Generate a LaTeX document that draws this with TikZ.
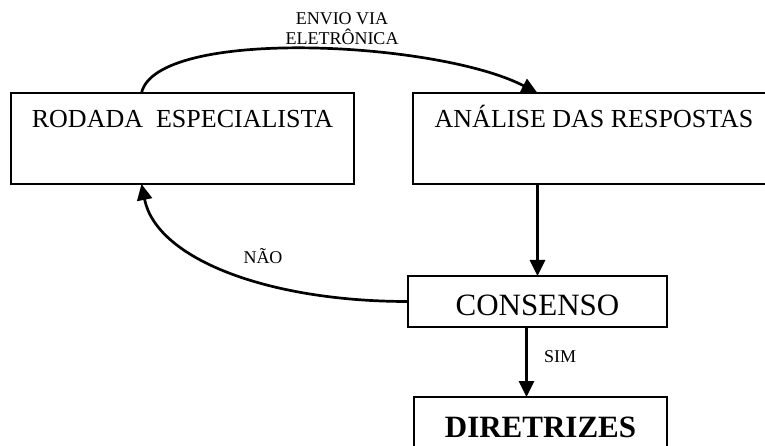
\documentclass[tikz,border=0pt]{standalone}
\usepackage{fontspec}
\setmainfont{Liberation Serif}
\usetikzlibrary{arrows.meta}

\begin{document}
\begin{tikzpicture}[x=1pt,y=-1pt,
		etapa/.style={draw, line width=1.4pt, inner xsep=0pt, inner ysep=0pt, outer sep=0pt, anchor=north west},
		seta/.style={line width=2.7pt, -{Triangle[length=16pt,width=15pt]}},
		rotulo/.style={font=\fontsize{18}{20}\selectfont, inner sep=0pt}]
			%%%%% START %%%%%
			\clip (0,0) rectangle (765,446);
			
			% etapas
			\node[etapa, minimum width=343pt, text height=35pt, text depth=56pt, font=\fontsize{26}{30}\selectfont] (rodada) at (11,93) {RODADA~~ESPECIALISTA};
			\node[etapa, minimum width=362pt, text height=35pt, text depth=56pt, font=\fontsize{26}{30}\selectfont] (analise) at (413,93) {ANÁLISE DAS RESPOSTAS};
			\node[etapa, minimum width=259pt, text height=39pt, text depth=12pt, font=\fontsize{31}{36}\selectfont] (consenso) at (408,276) {CONSENSO};
			\node[etapa, minimum width=253pt, text height=40pt, text depth=14pt, font=\fontsize{31}{36}\selectfont\bfseries] (diretrizes) at (414,397) {DIRETRIZES};
			
			% setas
			\draw[seta] ([xshift=-41pt]rodada.north) .. controls +(15,-66) and +(-100,-52) .. (consenso.north |- analise.north);
			\draw[seta] (consenso.north |- analise.south) -- (consenso.north);
			\draw[seta] (consenso.west) .. controls +(-140,0) and +(15,75) .. ([xshift=-41pt]rodada.south);
			\draw[seta] ([xshift=-11pt]consenso.south) -- ([xshift=-11pt]consenso.south |- diretrizes.north);
			
			% rotulos
			\node[rotulo, align=center] (envio) at (342,29) {ENVIO VIA\\ELETRÔNICA};
			\node[rotulo] (nao) at (263,256) {NÃO};
			\node[rotulo] (sim) at (560,357) {SIM};
			
			%%%%% END %%%%%
		\end{tikzpicture}
\end{document}
